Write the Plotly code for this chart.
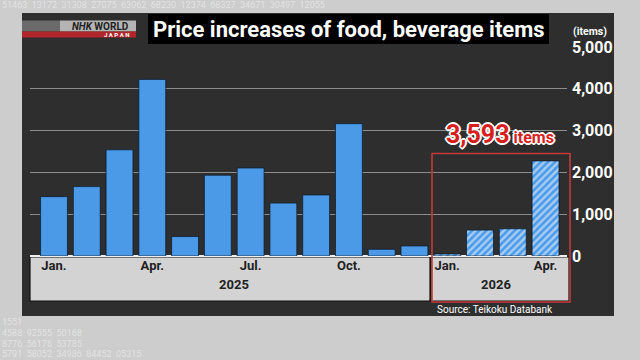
import plotly.graph_objects as go

# ---- data ----
months = ["2025-01", "2025-02", "2025-03", "2025-04", "2025-05", "2025-06",
          "2025-07", "2025-08", "2025-09", "2025-10", "2025-11", "2025-12",
          "2026-01", "2026-02", "2026-03", "2026-04"]
values_2025 = [1420, 1660, 2540, 4225, 465, 1932, 2105, 1265, 1460, 3165, 160, 240]
values_2026 = [48, 620, 650, 2275]
tick_positions = ["2025-01", "2025-04", "2025-07", "2025-10", "2026-01", "2026-04"]
tick_labels = ["Jan.", "Apr.", "Jul.", "Oct.", "Jan.", "Apr."]
y_ticks = [0, 1000, 2000, 3000, 4000, 5000]
total_2026 = sum(values_2026)

W_PX, H_PX = 640, 360
L, R, T, B = 30, 73, 47, 104
PW = W_PX - L - R
PH = H_PX - T - B


def px(xp):
    return (xp - L) / PW


def py(yp):
    return (H_PX - B - yp) / PH


NARROW = "Roboto, Liberation Sans, sans-serif"
SANS = "Roboto, Liberation Sans, sans-serif"
BLUE = "#4a9ae8"

fig = go.Figure()
fig.add_trace(go.Bar(
    x=months[:12], y=values_2025, width=0.82,
    marker=dict(color=BLUE, line=dict(color="rgba(10,25,45,0.7)", width=1)),
    hoverinfo="skip"))
fig.add_trace(go.Bar(
    x=months[12:], y=values_2026, width=0.82,
    marker=dict(color=BLUE, line=dict(color="rgba(10,25,45,0.7)", width=1),
                pattern=dict(shape="/", fgcolor="white", bgcolor=BLUE,
                             size=5, solidity=0.5)),
    hoverinfo="skip"))

shapes = []
# dark panel
shapes.append(dict(type="rect", xref="paper", yref="paper", layer="below",
                   x0=px(22), x1=px(614), y0=py(13), y1=py(316),
                   fillcolor="#2e2e2e", line=dict(width=0)))
# category bands
shapes.append(dict(type="rect", xref="paper", yref="paper", layer="below",
                   x0=px(30), x1=px(430), y0=py(257), y1=py(301),
                   fillcolor="#d3d3d3", line=dict(color="#111", width=1.2)))
shapes.append(dict(type="rect", xref="paper", yref="paper", layer="below",
                   x0=px(431), x1=px(569), y0=py(257), y1=py(301),
                   fillcolor="#d3d3d3", line=dict(color="#111", width=1.2)))
# red highlight box
shapes.append(dict(type="rect", xref="paper", yref="paper", layer="above",
                   x0=px(432), x1=px(570), y0=py(302), y1=py(153.5),
                   fillcolor="rgba(0,0,0,0)", line=dict(color="#c43a3a", width=1.6)))
# title box
shapes.append(dict(type="rect", xref="paper", yref="paper", layer="above",
                   x0=px(148), x1=px(549), y0=py(44), y1=py(14),
                   fillcolor="#000000", line=dict(width=0)))
# logo
shapes.append(dict(type="rect", xref="paper", yref="paper", layer="above",
                   x0=px(60), x1=px(136), y0=py(31.5), y1=py(20.5),
                   fillcolor="#b4b4b4", line=dict(width=0)))
shapes.append(dict(type="rect", xref="paper", yref="paper", layer="above",
                   x0=px(22), x1=px(60), y0=py(31.5), y1=py(20.5),
                   fillcolor="#6a6a6a", line=dict(width=0)))
shapes.append(dict(type="rect", xref="paper", yref="paper", layer="above",
                   x0=px(22), x1=px(136), y0=py(37.5), y1=py(31.5),
                   fillcolor="#b0262b", line=dict(width=0)))

annotations = []
annotations.append(dict(text="Price increases of food, beverage items",
                        xref="paper", yref="paper", x=px(349), y=py(29.5),
                        xanchor="center", yanchor="middle", showarrow=False,
                        font=dict(family=NARROW, size=22, color="white", weight="bold")))
annotations.append(dict(text="<i>NHK</i> WORLD", xref="paper", yref="paper",
                        x=px(131), y=py(26), xanchor="right", yanchor="middle",
                        showarrow=False,
                        font=dict(family=SANS, size=10, color="#222", weight="bold")))
annotations.append(dict(text="J A P A N", xref="paper", yref="paper",
                        x=px(131), y=py(34.5), xanchor="right", yanchor="middle",
                        showarrow=False,
                        font=dict(family=SANS, size=6, color="white", weight="bold")))
annotations.append(dict(text="(items)", xref="paper", yref="paper",
                        x=px(609), y=py(31), xanchor="right", yanchor="middle",
                        showarrow=False,
                        font=dict(family=NARROW, size=10.5, color="white", weight="bold")))
annotations.append(dict(text="2025", x=5.5, xref="x", yref="paper", y=py(284),
                        xanchor="center", yanchor="middle", showarrow=False,
                        font=dict(family=SANS, size=13, color="#222", weight="bold")))
annotations.append(dict(text="2026", x=13.5, xref="x", yref="paper", y=py(284),
                        xanchor="center", yanchor="middle", showarrow=False,
                        font=dict(family=SANS, size=13, color="#222", weight="bold")))
annotations.append(dict(text="Source: Teikoku Databank", xref="paper", yref="paper",
                        x=px(435), y=py(309.5), xanchor="left", yanchor="middle",
                        showarrow=False,
                        font=dict(family=SANS, size=10, color="white")))
outline = ("1px 1px 0 #fff, -1px -1px 0 #fff, 1px -1px 0 #fff, -1px 1px 0 #fff, "
           "0 2px 0 #fff, 2px 0 0 #fff, 0 -2px 0 #fff, -2px 0 0 #fff")
annotations.append(dict(
    text=f"{total_2026:,}<span style='font-size:16px'> items</span>",
    xref="paper", yref="paper", x=px(500), y=py(134), xanchor="center",
    yanchor="middle", showarrow=False,
    font=dict(family=SANS, size=25, color="#d81e1e", weight="bold", shadow=outline)))

# faint background digits
bg_rows = [
    ("51463  13172  31308  27075  63062  68230  12374  68327  34671  30497  12055", 5),
    ("1551", 322), ("4588  92555  50168", 333),
    ("8776  56176  53785", 344), ("5791  58052  34986  84452  05315", 354),
]
for txt, yy in bg_rows:
    annotations.append(dict(text=txt, xref="paper", yref="paper", x=px(0), y=py(yy),
                            xanchor="left", yanchor="middle", showarrow=False,
                            font=dict(family=NARROW, size=9,
                                      color="rgba(255,255,255,0.45)")))

fig.update_layout(
    width=W_PX, height=H_PX,
    margin=dict(l=L, r=R, t=T, b=B, autoexpand=False),
    paper_bgcolor="#cdcdcd", plot_bgcolor="rgba(0,0,0,0)",
    showlegend=False, bargap=0.18,
    shapes=shapes, annotations=annotations,
    xaxis=dict(type="category", categoryorder="array", categoryarray=months,
               range=[-0.732, 15.655], tickmode="array",
               tickvals=tick_positions, ticktext=tick_labels,
               showgrid=False, ticks="", showline=False, zeroline=False,
               tickfont=dict(family=SANS, size=13, color="#222", weight="bold"),
               automargin=False, fixedrange=True),
    yaxis=dict(range=[0, 5000], side="right", tickmode="array", tickvals=y_ticks,
               tickformat=",", showgrid=True, gridcolor="#8c8c8c", gridwidth=1,
               zeroline=True, zerolinecolor="#eeeeee", zerolinewidth=2,
               ticks="", ticklabelstandoff=4, showline=False,
               tickfont=dict(family=NARROW, size=16, color="white", weight="bold"),
               automargin=False, fixedrange=True),
)

fig.write_html("out.html", config={"displayModeBar": False},
               post_script="document.body.style.margin='0';document.body.style.overflow='hidden';")
